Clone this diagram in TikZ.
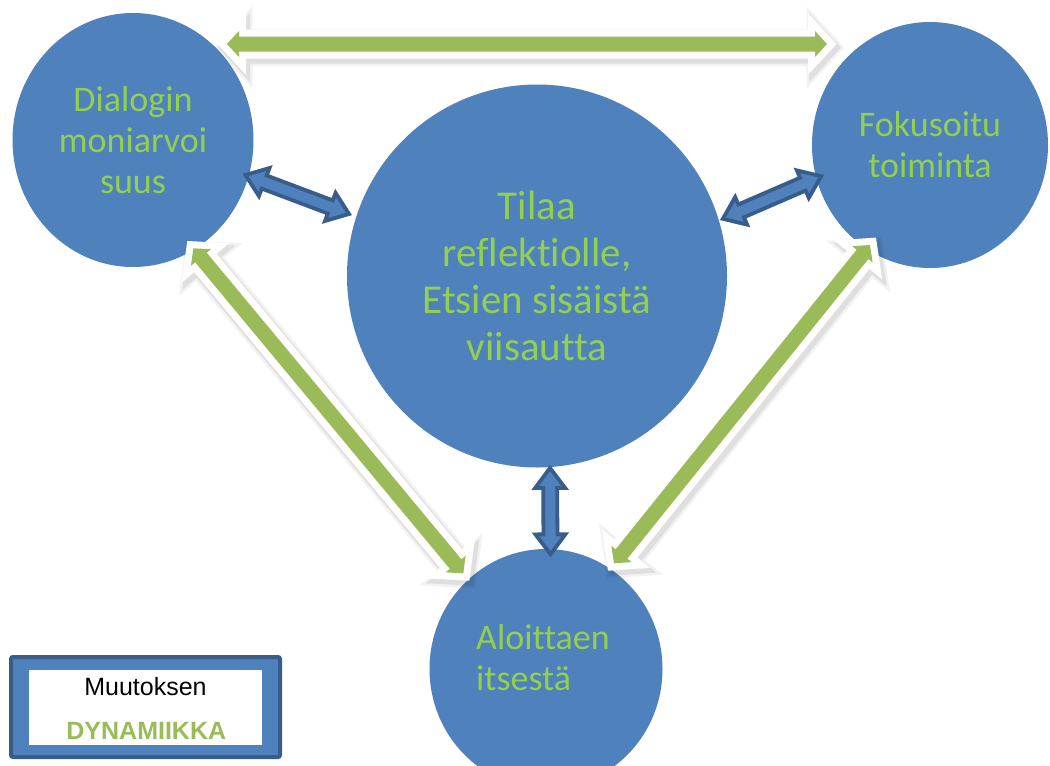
\documentclass[tikz,border=0pt]{standalone}
\usepackage{fontspec}
\setmainfont{Carlito}[Ligatures=NoCommon, RawFeature={-liga;-clig}]
\newfontfamily\arialf{Liberation Sans}
\usetikzlibrary{calc,shapes.geometric}
\definecolor{cfill}{HTML}{4F81BD}
\definecolor{cdark}{HTML}{385D8A}
\definecolor{ctxt}{HTML}{92D050}
\definecolor{agreen}{HTML}{9BBB59}
% double block arrow path: #1 tip A, #2 tip B, #3 head length, #4 head half width, #5 shaft half width
\newcommand\dblarrowpath[5]{%
 (#1) -- ($(#1)!#3!(#2)!#4!90:(#2)$) -- ($(#1)!#3!(#2)!#5!90:(#2)$)
 -- ($(#2)!#3!(#1)!#5!-90:(#1)$) -- ($(#2)!#3!(#1)!#4!-90:(#1)$) -- (#2)
 -- ($(#2)!#3!(#1)!#4!90:(#1)$) -- ($(#2)!#3!(#1)!#5!90:(#1)$)
 -- ($(#1)!#3!(#2)!#5!-90:(#2)$) -- ($(#1)!#3!(#2)!#4!-90:(#2)$) -- cycle}
\newcommand\greenarrow[2]{%
 \begin{scope}[transform canvas={shift={(2.5pt,-3.5pt)}}]
  \draw[gshadowA] \dblarrowpath{#1}{#2}{12pt}{13pt}{7.5pt};
  \draw[gshadowB] \dblarrowpath{#1}{#2}{12pt}{13pt}{7.5pt};
 \end{scope}
 \draw[gwhite] \dblarrowpath{#1}{#2}{12pt}{13pt}{7.5pt};
 \fill[gfill] \dblarrowpath{#1}{#2}{12pt}{13pt}{7.5pt};}
\newcommand\bluearrow[2]{%
 \draw[barrow] \dblarrowpath{#1}{#2}{20pt}{15pt}{7pt};}
\tikzset{
 bub/.style={ellipse, fill=cfill, inner sep=0pt, text=ctxt, align=center},
 bigtxt/.style={font=\fontsize{41}{47}\selectfont},
 smtxt/.style={font=\fontsize{36}{41}\selectfont},
 gshadowA/.style={draw=black, opacity=0.05, line width=22pt, line join=miter, miter limit=10},
 gshadowB/.style={draw=black, opacity=0.08, line width=17pt, line join=miter, miter limit=10},
 gwhite/.style={draw=white, line width=14pt, line join=miter, miter limit=10},
 gfill/.style={fill=agreen},
 barrow/.style={fill=cfill, draw=cdark, line width=3.8pt, line join=miter, miter limit=10},
}
\begin{document}
\begin{tikzpicture}[x=1pt, y=-1pt]
\fill[white] (0,0) rectangle (1050,766);
\useasboundingbox (0,0) rectangle (1050,766);

% circles
\node[bub, smtxt, minimum width=241pt, minimum height=254pt] (dia) at (133,140) {Dialogin\\moniarvoi\\suus};
\node[bub, bigtxt, minimum width=380pt, minimum height=383pt] (til) at (537,276) {Tilaa\\reflektiolle,\\Etsien sisäistä\\viisautta};
\node[bub, smtxt, minimum width=236pt, minimum height=246pt] (fok) at (930,145) {Fokusoitu\\toiminta};
\node[bub, minimum width=233pt, minimum height=240pt] (alo) at (546,669) {};
\node[smtxt, text=ctxt, align=left, anchor=north west, inner sep=0pt] (alotxt) at (476,624) {Aloittaen\\itsestä};

% arrow end points
\coordinate (t1) at (227,44);
\coordinate (t2) at (827,44);
\coordinate (l1) at (193.3,248.3);
\coordinate (l2) at (463.3,573.3);
\coordinate (r1) at (870,245);
\coordinate (r2) at (614,563.3);
\coordinate (b1) at (245.5,175);
\coordinate (b2) at (349,214);
\coordinate (c1) at (722.8,218.8);
\coordinate (c2) at (821.2,176.2);
\coordinate (v1) at (550,468);
\coordinate (v2) at (550.6,554.3);

% green arrows
\greenarrow{t1}{t2}
\greenarrow{l1}{l2}
\greenarrow{r1}{r2}

% blue arrows
\bluearrow{b1}{b2}
\bluearrow{c1}{c2}
\bluearrow{v1}{v2}

% legend
\node[draw=cdark, fill=cfill, line width=4pt, rounded corners=2pt, minimum width=269pt, minimum height=100pt, inner sep=0pt] (legbox) at (145.5,707) {};
\node[fill=white, minimum width=233pt, minimum height=75pt, inner sep=0pt] (legin) at (145.5,707.5) {};
\node[font=\arialf\fontsize{25}{30}\selectfont, anchor=base, inner sep=0pt] (muu) at (145.5,695) {Muutoksen};
\node[font=\arialf\bfseries\fontsize{25}{30}\selectfont, text=agreen, anchor=base, inner sep=0pt] (dyn) at (146.3,739) {DYNAMIIKKA};
\end{tikzpicture}
\end{document}
